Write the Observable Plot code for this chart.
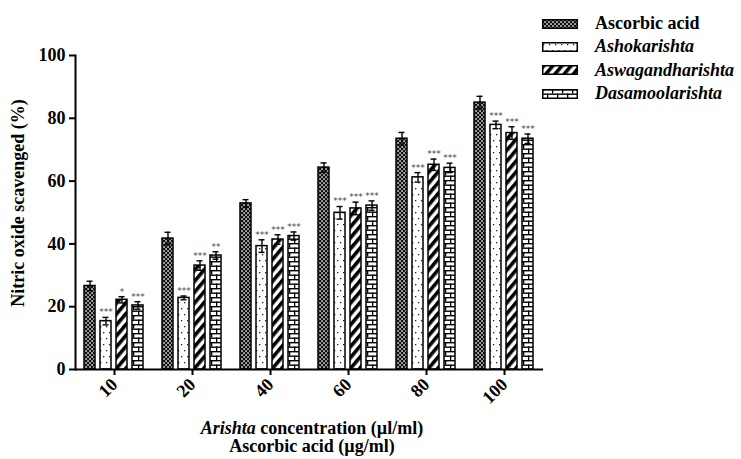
<!DOCTYPE html>
<html>
<head>
<meta charset="utf-8">
<script src="https://cdn.jsdelivr.net/npm/d3@7"></script>
<script src="https://cdn.jsdelivr.net/npm/@observablehq/plot@0.6"></script>
<style>
  html, body { margin: 0; padding: 0; background: #fff; }
  #wrap { position: relative; width: 741px; height: 459px; }
  #legend { position: absolute; left: 542px; top: 12px; font-family: "Liberation Serif", serif; font-weight: bold; font-size: 18px; color: #000; }
  #legend .row { display: flex; align-items: center; height: 23.3px; }
  #legend svg { width: 36px; height: 10px; margin-right: 17px; }
</style>
</head>
<body>
<div id="wrap"><div id="legend"></div></div>
<script>
const concentrations = ["10", "20", "40", "60", "80", "100"];
const seriesNames = ["Ascorbic acid", "Ashokarishta", "Aswagandharishta", "Dasamoolarishta"];
const ascorbic = [26.6, 41.7, 52.9, 64.3, 73.5, 85.0];
const ascorbicErr = [1.5, 2.0, 1.2, 1.5, 2.0, 2.0];
const ashok = [15.4, 22.8, 39.3, 49.9, 61.2, 77.9];
const ashokErr = [1.2, 0.6, 2.0, 2.0, 1.5, 1.2];
const aswag = [22.2, 33.1, 41.4, 51.3, 65.2, 75.3];
const aswagErr = [1.0, 1.5, 1.5, 2.0, 1.8, 2.0];
const dasa = [20.4, 36.3, 42.5, 52.2, 64.2, 73.5];
const dasaErr = [1.2, 1.2, 1.3, 1.5, 1.5, 1.5];
const ascorbicSig = ["", "", "", "", "", ""];
const ashokSig = ["***", "***", "***", "***", "***", "***"];
const aswagSig = ["*", "***", "***", "***", "***", "***"];
const dasaSig = ["***", "**", "***", "***", "***", "***"];
const yTicks = [0, 20, 40, 60, 80, 100];

const patternIds = ["pat-checker", "pat-dots", "pat-stripes", "pat-brick"];
const seriesValues = [ascorbic, ashok, aswag, dasa];
const seriesErrs = [ascorbicErr, ashokErr, aswagErr, dasaErr];
const seriesSigs = [ascorbicSig, ashokSig, aswagSig, dasaSig];

const data = [];
concentrations.forEach((c, i) => {
  seriesNames.forEach((s, j) => {
    data.push({conc: c, series: s, value: seriesValues[j][i], err: seriesErrs[j][i], sig: seriesSigs[j][i]});
  });
});

const chart = Plot.plot({
  width: 741,
  height: 459,
  marginLeft: 72,
  marginRight: 196,
  marginTop: 55,
  marginBottom: 90,
  style: {fontFamily: "Liberation Serif, serif", fontWeight: "bold", fontSize: "18px", color: "#000", background: "#fff"},
  fx: {domain: concentrations, padding: 0, paddingOuter: 0, label: null, axis: null},
  x: {domain: seriesNames, padding: 0.3, paddingOuter: 0.46, axis: null},
  y: {domain: [0, 100], axis: null},
  color: {domain: seriesNames, range: patternIds.map(id => `url(#${id})`)},
  marks: [
    Plot.barY(data, {fx: "conc", x: "series", y: "value", fill: "series", stroke: "#000", strokeWidth: 1.5}),
    Plot.ruleX(data, {fx: "conc", x: "series", y1: d => d.value - d.err, y2: d => d.value + d.err, stroke: "#000", strokeWidth: 1.4}),
    Plot.tickY(data, {fx: "conc", x: "series", y: d => d.value + d.err, stroke: "#000", strokeWidth: 1.4, insetLeft: 2.5, insetRight: 2.5}),
    Plot.tickY(data, {fx: "conc", x: "series", y: d => d.value - d.err, stroke: "#000", strokeWidth: 1.4, insetLeft: 2.5, insetRight: 2.5}),
    Plot.text(data, {fx: "conc", x: "series", y: d => d.value + d.err, text: "sig", dy: -5, fontSize: 9, fontWeight: "normal", fontFamily: "DejaVu Sans, sans-serif", fill: "#444"}),
    Plot.ruleY([0], {stroke: "#000", strokeWidth: 2}),
    Plot.axisY({ticks: yTicks, tickSize: 6, tickPadding: 4, tickFormat: d => String(d), label: null, strokeWidth: 2, facetAnchor: "left"}),
    Plot.frame({anchor: "left", facet: "super", stroke: "#000", strokeWidth: 2}),
    Plot.axisFx({anchor: "bottom", tickRotate: -45, tickSize: 6, tickPadding: 6, label: null, strokeWidth: 2})
  ]
});

// Pattern definitions used by the bar fills
const sel = d3.select(chart);
const defs = sel.insert("defs", ":first-child");
// checkerboard
const p1 = defs.append("pattern").attr("id", "pat-checker").attr("patternUnits", "userSpaceOnUse").attr("width", 4).attr("height", 4);
p1.append("rect").attr("width", 4).attr("height", 4).attr("fill", "#111");
p1.append("rect").attr("x", 0.3).attr("y", 0.3).attr("width", 1.5).attr("height", 1.5).attr("fill", "#fff");
p1.append("rect").attr("x", 2.3).attr("y", 2.3).attr("width", 1.5).attr("height", 1.5).attr("fill", "#fff");
// sparse dots
const p2 = defs.append("pattern").attr("id", "pat-dots").attr("patternUnits", "userSpaceOnUse").attr("width", 6).attr("height", 12);
p2.append("rect").attr("width", 6).attr("height", 12).attr("fill", "#fff");
p2.append("rect").attr("x", 1).attr("y", 2).attr("width", 1.3).attr("height", 1.3).attr("fill", "#222");
p2.append("rect").attr("x", 4).attr("y", 8).attr("width", 1.3).attr("height", 1.3).attr("fill", "#222");
// diagonal stripes
const p3 = defs.append("pattern").attr("id", "pat-stripes").attr("patternUnits", "userSpaceOnUse").attr("width", 7).attr("height", 7).attr("patternTransform", "rotate(40)");
p3.append("rect").attr("width", 7).attr("height", 7).attr("fill", "#fff");
p3.append("rect").attr("width", 3.6).attr("height", 7).attr("fill", "#000");
// brick
const p4 = defs.append("pattern").attr("id", "pat-brick").attr("patternUnits", "userSpaceOnUse").attr("width", 10).attr("height", 9);
p4.append("rect").attr("width", 10).attr("height", 9).attr("fill", "#fff");
p4.append("rect").attr("x", 0).attr("y", 0).attr("width", 10).attr("height", 1.4).attr("fill", "#000");
p4.append("rect").attr("x", 0).attr("y", 4.5).attr("width", 10).attr("height", 1.4).attr("fill", "#000");
p4.append("rect").attr("x", 0).attr("y", 0).attr("width", 1.3).attr("height", 4.5).attr("fill", "#000");
p4.append("rect").attr("x", 5).attr("y", 4.5).attr("width", 1.3).attr("height", 4.5).attr("fill", "#000");

// Axis titles
sel.append("text")
  .attr("transform", "translate(24,203) rotate(-90)")
  .attr("text-anchor", "middle")
  .attr("font-size", 18).attr("font-weight", "bold")
  .text("Nitric oxide scavenged (%)");
const xl = sel.append("text").attr("x", 312).attr("y", 434).attr("text-anchor", "middle").attr("font-size", 18).attr("font-weight", "bold");
xl.append("tspan").attr("font-style", "italic").text("Arishta");
xl.append("tspan").text(" concentration (µl/ml)");
sel.append("text").attr("x", 312).attr("y", 452).attr("text-anchor", "middle").attr("font-size", 18).attr("font-weight", "bold").text("Ascorbic acid (µg/ml)");

document.getElementById("wrap").prepend(chart);

// Legend
const legend = d3.select("#legend");
seriesNames.forEach((s, j) => {
  const row = legend.append("div").attr("class", "row");
  const sw = row.append("svg").attr("viewBox", "0 0 36 10");
  sw.append("rect").attr("x", 0.75).attr("y", 0.75).attr("width", 34.5).attr("height", 8.5).attr("fill", `url(#${patternIds[j]})`).attr("stroke", "#000").attr("stroke-width", 1.5);
  row.append("span").style("font-style", j === 0 ? "normal" : "italic").text(s);
});
</script>
</body>
</html>
